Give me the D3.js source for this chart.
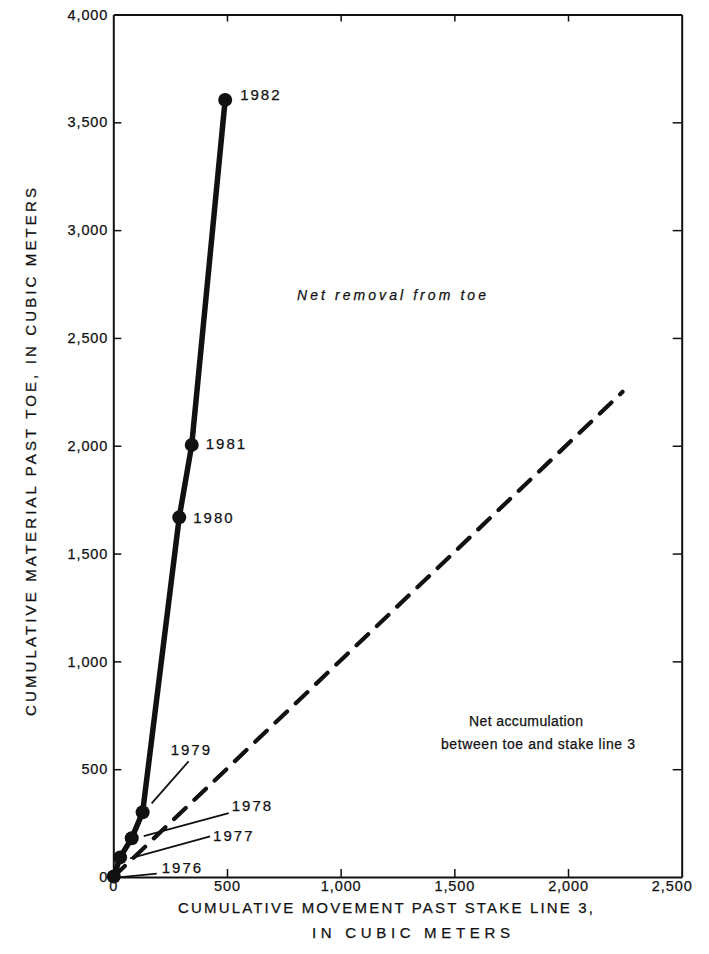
<!DOCTYPE html>
<html>
<head>
<meta charset="utf-8">
<script src="https://cdn.jsdelivr.net/npm/d3@7/dist/d3.min.js"></script>
<style>
  html, body { margin: 0; padding: 0; background: #fff; }
  svg { display: block; }
  text { font-family: "Liberation Sans", Arial, Helvetica, sans-serif; fill: #111; stroke: #111; stroke-width: 0.25; }
</style>
</head>
<body>
<svg id="chart" width="709" height="954"></svg>
<script>
// ---- data ----
const years = [1976, 1977, 1978, 1979, 1980, 1981, 1982];
const movement = [2, 30, 81, 129, 290, 345, 492];      // cumulative movement past stake line 3 (m3)
const material = [2, 91, 180, 300, 1668, 2004, 3604];  // cumulative material past toe (m3)
const equalMovement = [0, 2240];   // dashed reference line
const equalMaterial = [0, 2250];
const xTicks = [0, 500, 1000, 1500, 2000, 2500];
const yTicks = [0, 500, 1000, 1500, 2000, 2500, 3000, 3500, 4000];

// annotation placement (pixel offsets from each point)
const yearLabelOffsets = [
  {lx1: 2, ly1: 1, lx2: 43, ly2: -3, tx: 48, ty: -4},
  {lx1: 10, ly1: 1, lx2: 90, ly2: -21, tx: 93, ty: -16},
  {lx1: 12, ly1: -2, lx2: 97, ly2: -25, tx: 100, ty: -27},
  {lx1: 9, ly1: -9, lx2: 46, ly2: -51, tx: 28, ty: -57},
  {tx: 14, ty: 6},
  {tx: 14, ty: 4},
  {tx: 15, ty: 0}
];

const svg = d3.select("#chart");
const L = 113.3, R = 681.7, T = 14.5, B = 877;
const x = d3.scaleLinear().domain([0, 2500]).range([L, R]);
const y = d3.scaleLinear().domain([0, 4000]).range([B, T]);

// axes (ticks inward on all four sides)
const gB = svg.append("g").attr("transform", `translate(0,${B})`)
  .call(d3.axisBottom(x).tickValues(xTicks).tickSizeInner(-8).tickSizeOuter(0).tickPadding(4).tickFormat(d3.format(",")));
const gL = svg.append("g").attr("transform", `translate(${L},0)`)
  .call(d3.axisLeft(y).tickValues(yTicks).tickSizeInner(-8).tickSizeOuter(0).tickPadding(5).tickFormat(d3.format(",")));
const gT = svg.append("g").attr("transform", `translate(0,${T})`)
  .call(d3.axisTop(x).tickValues(xTicks).tickSizeInner(-7).tickSizeOuter(0).tickFormat(""));
const gR = svg.append("g").attr("transform", `translate(${R},0)`)
  .call(d3.axisRight(y).tickValues(yTicks).tickSizeInner(-9).tickSizeOuter(0).tickFormat(""));

[gB, gL, gT, gR].forEach(g => {
  g.select(".domain").attr("stroke", "#111").attr("stroke-width", 2);
  g.selectAll(".tick line").attr("stroke", "#111").attr("stroke-width", 1.5);
  g.selectAll(".tick text").attr("font-size", 14.5).attr("letter-spacing", 0.9).attr("fill", "#111")
    .attr("font-family", "'Liberation Sans', Arial, sans-serif");
});
gB.selectAll(".tick text").filter(d => d === 2500).attr("dx", -10);
gB.selectAll(".tick line").filter(d => d === 0 || d === 2500).remove();
gL.selectAll(".tick line").filter(d => d === 0 || d === 4000).remove();
gT.selectAll(".tick line").filter(d => d === 0 || d === 2500).remove();
gR.selectAll(".tick line").filter(d => d === 0 || d === 4000).remove();

// dashed 1:1 line
const pairsDash = equalMovement.map((m, i) => [m, equalMaterial[i]]);
svg.append("path")
  .datum(pairsDash)
  .attr("d", d3.line().x(d => x(d[0])).y(d => y(d[1])))
  .attr("fill", "none").attr("stroke", "#111").attr("stroke-width", 4.2)
  .attr("stroke-dasharray", "16 12").attr("stroke-linecap", "round");

// solid cumulative line
const pts = years.map((yr, i) => ({yr, m: movement[i], v: material[i], o: yearLabelOffsets[i]}));
svg.append("path")
  .datum(pts)
  .attr("d", d3.line().x(d => x(d.m)).y(d => y(d.v)))
  .attr("fill", "none").attr("stroke", "#111").attr("stroke-width", 5.5).attr("stroke-linejoin", "round");

svg.selectAll("circle.pt").data(pts).join("circle")
  .attr("class", "pt")
  .attr("cx", d => x(d.m)).attr("cy", d => y(d.v)).attr("r", 7)
  .attr("fill", "#111");

// leader lines
svg.selectAll("line.leader").data(pts.filter(d => d.o.lx1 !== undefined)).join("line")
  .attr("class", "leader")
  .attr("x1", d => x(d.m) + d.o.lx1).attr("y1", d => y(d.v) + d.o.ly1)
  .attr("x2", d => x(d.m) + d.o.lx2).attr("y2", d => y(d.v) + d.o.ly2)
  .attr("stroke", "#111").attr("stroke-width", 1.8);

svg.selectAll("text.yr").data(pts).join("text")
  .attr("class", "yr")
  .attr("x", d => x(d.m) + d.o.tx).attr("y", d => y(d.v) + d.o.ty)
  .attr("font-size", 15).attr("letter-spacing", 2)
  .text(d => d.yr);

// region annotations
svg.append("text").attr("x", 297).attr("y", 300).attr("font-size", 14).attr("font-style", "italic")
  .attr("textLength", 189).attr("lengthAdjust", "spacing").text("Net removal from toe");
svg.append("text").attr("x", 469).attr("y", 726).attr("font-size", 14)
  .attr("textLength", 114).attr("lengthAdjust", "spacing").text("Net accumulation");
svg.append("text").attr("x", 441).attr("y", 749).attr("font-size", 14)
  .attr("textLength", 194).attr("lengthAdjust", "spacing").text("between toe and stake line 3");

// axis titles
svg.append("text").attr("x", 178).attr("y", 913).attr("font-size", 15)
  .attr("textLength", 415).attr("lengthAdjust", "spacing").text("CUMULATIVE MOVEMENT PAST STAKE LINE 3,");
svg.append("text").attr("x", 312).attr("y", 938).attr("font-size", 15)
  .attr("textLength", 198).attr("lengthAdjust", "spacing").text("IN CUBIC METERS");
svg.append("text").attr("transform", "translate(36,716) rotate(-90)").attr("x", 0).attr("y", 0)
  .attr("font-size", 15).attr("textLength", 528).attr("lengthAdjust", "spacing")
  .text("CUMULATIVE MATERIAL PAST TOE, IN CUBIC METERS");
</script>
</body>
</html>
